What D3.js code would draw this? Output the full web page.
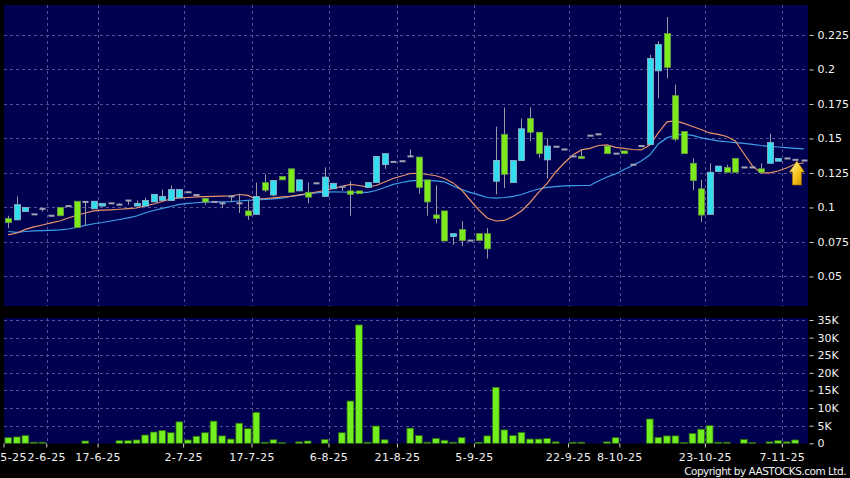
<!DOCTYPE html>
<html><head><meta charset="utf-8">
<script src="https://cdn.jsdelivr.net/npm/d3@7"></script>
<style>body{margin:0;background:#000;}svg{display:block}</style>
</head><body><svg id="c" width="850" height="478"></svg>
<script>
// ---------- data ----------
const opens  = [.092,.091,.097,.095,.099,.094,.100,.101,.1045,.104,.099,.101,.103,.102,.105,.101,.101,.104,.105,.105,
                .107,.111,.109,.1065,.104,.103,.108,.103,.0975,.095,.118,.109,.1225,.128,.112,.111,.1175,.108,.1135,.115,
                .112,.112,.1145,.118,.131,.133,.1335,.137,.1365,.120,.0946,.0975,.079,.084,.076,.081,.081,.119,.153,.118,
                .134,.1645,.1545,.1345,.144,.142,.137,.137,.152,.153,.1445,.139,.141,.131,.1445,.1455,.199,.226,.181,.155,
                .132,.1135,.095,.126,.129,.1355,.129,.129,.128,.132,.1335,.1355,.1345,.134];
const highs  = [.094,.108,.100,.095,.099,.094,.100,.101,.1045,.104,.1045,.103,.103,.103,.105,.105,.107,.1095,.113,.116,
                .113,.111,.109,.1065,.104,.103,.108,.110,.105,.118,.124,.1195,.1225,.128,.120,.118,.1175,.129,.1175,.115,
                .119,.112,.118,.137,.139,.133,.1335,.142,.1365,.120,.116,.0975,.081,.090,.076,.081,.085,.1585,.1725,.134,
                .1645,.1725,.1545,.150,.144,.142,.137,.1415,.152,.153,.1445,.139,.141,.131,.1445,.2105,.2205,.238,.189,.155,
                .1355,.120,.132,.130,.131,.1355,.129,.129,.132,.1535,.1355,.1355,.1345,.134];
const lows   = [.085,.091,.097,.095,.097,.094,.094,.101,.0855,.087,.099,.101,.103,.102,.102,.101,.101,.104,.105,.105,
                .107,.111,.109,.102,.104,.0995,.104,.096,.091,.095,.111,.108,.120,.111,.112,.103,.1175,.108,.1135,.112,
                .094,.110,.1145,.118,.128,.133,.1335,.137,.110,.094,.0885,.0757,.073,.072,.076,.076,.063,.1095,.114,.118,
                .134,.148,.136,.121,.144,.142,.137,.1355,.152,.153,.139,.139,.139,.131,.1445,.1455,.179,.1935,.148,.139,
                .1125,.0895,.095,.126,.1255,.1255,.129,.129,.1255,.132,.1335,.1355,.1345,.134];
const closes = [.089,.102,.100,.095,.099,.094,.094,.101,.0855,.104,.1045,.103,.103,.102,.105,.103,.105,.1095,.108,.113,
                .113,.111,.109,.104,.104,.103,.108,.103,.094,.108,.1125,.1195,.120,.111,.120,.1075,.1175,.122,.1175,.115,
                .1095,.110,.118,.137,.139,.133,.1335,.137,.1145,.104,.092,.0757,.081,.076,.076,.076,.070,.134,.124,.134,
                .157,.1545,.139,.1445,.144,.142,.137,.1355,.152,.153,.139,.139,.139,.131,.1445,.208,.218,.2015,.1495,.139,
                .1195,.0945,.1255,.130,.1255,.1255,.129,.129,.1255,.147,.1355,.1355,.1345,.134];
// volume, thousands of shares
const volumes = [1.6,1.8,2.2,0.3,0.3,0,0,0,0,0.65,0,0,0,0.75,0.75,0.95,2.35,3.2,3.6,3.0,
                 6.1,0.95,2.0,3.0,6.3,2.1,1.2,5.7,4.15,8.8,0.3,1.0,0.2,0,0.4,0.65,0,1.1,0,3.0,
                 12.0,33.6,0.3,4.9,1.0,0,0,4.3,2.2,0.3,1.4,0.85,0.3,1.6,0,0.3,2.1,15.9,3.8,2.2,
                 3.1,1.2,1.2,1.4,0.4,0,0.3,0.3,0,0,0.4,1.6,0,0,0,6.9,1.7,2.1,2.1,0.2,
                 2.8,4.0,5.0,0.3,0.3,0,1.1,0.2,0,0.4,0.75,0.4,0.95,0];
// moving averages (orange = short, blue = long)
const maShort = [.0801,.0815,.0841,.0859,.0873,.0888,.0902,.0924,.0943,.0960,.0975,.0980,.0983,.0987,.0991,.0996,.1011,.1025,.1043,.1062,
                 .1069,.1072,.1076,.1078,.1080,.1082,.1083,.1094,.1087,.1062,.1065,.1070,.1076,.1080,.1091,.1101,.1112,.1123,.1138,.1152,
                 .1167,.1159,.1149,.1159,.1185,.1210,.1228,.1246,.1248,.1239,.1230,.1210,.1178,.1127,.1054,.0982,.0924,.0902,.0906,.0935,
                 .0975,.1036,.1109,.1174,.1257,.1322,.1380,.1417,.1428,.1449,.1453,.1435,.1428,.1420,.1417,.1453,.1540,.1620,.1627,.1609,
                 .1587,.1565,.1540,.1529,.1514,.1482,.1391,.1301,.1250,.1250,.1264,.1286,.1315,.1322];
const maLong  = [.0826,.0820,.0826,.0830,.0832,.0834,.0837,.0844,.0855,.0870,.0882,.0891,.0902,.0913,.0924,.0938,.0960,.0978,.0993,.1007,
                 .1022,.1030,.1034,.1038,.1040,.1041,.1043,.1047,.1051,.1054,.1058,.1062,.1067,.1080,.1087,.1096,.1105,.1112,.1114,.1112,
                 .1110,.1110,.1110,.1123,.1145,.1167,.1181,.1192,.1196,.1194,.1192,.1185,.1156,.1130,.1109,.1091,.1072,.1067,.1072,.1080,
                 .1094,.1116,.1134,.1145,.1151,.1156,.1158,.1159,.1159,.1192,.1221,.1243,.1275,.1304,.1337,.1380,.1460,.1504,.1525,.1529,
                 .1522,.1504,.1493,.1482,.1476,.1470,.1464,.1457,.1449,.1443,.1438,.1433,.1428,.1424];
const dateLabels   = ["19-5-25","2-6-25","17-6-25","2-7-25","17-7-25","6-8-25","21-8-25","5-9-25","22-9-25","8-10-25","23-10-25","7-11-25"];
const dateLabelIdx = [0,5,11,21,29,38,46,55,66,72,82,91];
const priceTicks = [0.05,0.075,0.1,0.125,0.15,0.175,0.2,0.225];
const volTicks   = [0,5,10,15,20,25,30,35];

// ---------- layout ----------
const W=850,H=478;
const plotL=4, plotR=808, mainT=5, mainB=306, volT=318, volB=443.5;
const navy="#000050", gridC="#4f4f92", txtC="#f2f2f2";
const svg=d3.select("#c");
svg.append("rect").attr("width",W).attr("height",H).attr("fill","#000");

const n=opens.length;
const x=d3.scaleBand().domain(d3.range(n)).range([plotL,plotR]);
const bw=x.bandwidth();
const cx=i=>x(i)+bw/2;
const y=d3.scaleLinear().domain([0.0286,0.2467]).range([mainB,mainT]);
const yv=d3.scaleLinear().domain([0,35]).range([443.3,320]);

svg.append("rect").attr("x",plotL).attr("y",mainT).attr("width",plotR-plotL).attr("height",mainB-mainT).attr("fill",navy);
svg.append("rect").attr("x",plotL).attr("y",volT).attr("width",plotR-plotL).attr("height",volB-volT).attr("fill",navy);

// grids
const g=svg.append("g").attr("stroke",gridC).attr("stroke-dasharray","3,3").attr("stroke-width",1);
priceTicks.forEach(p=>g.append("line").attr("x1",plotL).attr("x2",plotR).attr("y1",Math.round(y(p))+.5).attr("y2",Math.round(y(p))+.5));
volTicks.filter(v=>v>0).forEach(v=>g.append("line").attr("x1",plotL).attr("x2",plotR).attr("y1",Math.round(yv(v))+.5).attr("y2",Math.round(yv(v))+.5));
dateLabelIdx.filter(i=>i>0).forEach(i=>{
  const xx=Math.round(x(i))+.5;
  g.append("line").attr("x1",xx).attr("x2",xx).attr("y1",mainT).attr("y2",mainB);
  g.append("line").attr("x1",xx).attr("x2",xx).attr("y1",volT).attr("y2",volB);
});

// moving averages
const lineS=d3.line().x((d,i)=>cx(i)).y(d=>y(d));
svg.append("path").attr("d",lineS(maLong)).attr("fill","none").attr("stroke","#3d9fe6").attr("stroke-width",1.2);
svg.append("path").attr("d",lineS(maShort)).attr("fill","none").attr("stroke","#e8946a").attr("stroke-width",1.2);

// candles
const data=d3.range(n).map(i=>({i,o:opens[i],h:highs[i],l:lows[i],c:closes[i],v:volumes[i]}));
const cg=svg.append("g");
cg.selectAll("line.w").data(data.filter(d=>d.h>Math.max(d.o,d.c)||d.l<Math.min(d.o,d.c))).join("line")
  .attr("x1",d=>Math.round(cx(d.i))+.5).attr("x2",d=>Math.round(cx(d.i))+.5)
  .attr("y1",d=>y(d.h)).attr("y2",d=>y(d.l)).attr("stroke","#9a9aa6").attr("stroke-width",1);
const bodyW=6;
cg.selectAll("rect.b").data(data).join("rect")
  .attr("x",d=>Math.round(cx(d.i))-bodyW/2+.5)
  .attr("width",bodyW)
  .attr("y",d=>d.o===d.c? y(d.o)-1 : y(Math.max(d.o,d.c)))
  .attr("height",d=>d.o===d.c? 2 : Math.max(2,Math.abs(y(d.o)-y(d.c))))
  .attr("fill",d=>d.c>d.o?"#33dcef":(d.c<d.o?"#7dea1c":"#a2a2b2"))
  .attr("stroke",d=>d.c>d.o?"#9ab8c8":(d.c<d.o?"#6b9a4a":"none"))
  .attr("stroke-width",0.8);

// volume bars
svg.append("g").selectAll("rect").data(data.filter(d=>d.v>0)).join("rect")
  .attr("x",d=>x(d.i)+0.9).attr("width",bw-1.8)
  .attr("y",d=>yv(d.v)).attr("height",d=>yv(0)-yv(d.v))
  .attr("fill","#72f01e").attr("stroke","#2f6a14").attr("stroke-width",0.8);

// axes
const styleAxis=(sel)=>{sel.select(".domain").remove();
  sel.selectAll(".tick line").attr("stroke","#cfcfcf");
  sel.selectAll(".tick text").attr("fill",txtC).style("font-family","'DejaVu Sans',sans-serif").style("font-size","11px");};
svg.append("g").attr("transform",`translate(${plotR+1.5},0)`)
  .call(d3.axisRight(y).tickValues(priceTicks).tickSize(4).tickPadding(4).tickFormat(d=>String(d))).call(styleAxis);
svg.append("g").attr("transform",`translate(${plotR+1.5},0)`)
  .call(d3.axisRight(yv).tickValues(volTicks).tickSize(4).tickPadding(4).tickFormat(d=>d===0?"0":d+"K")).call(styleAxis);
const xa=svg.append("g").attr("transform",`translate(${-bw/2},${volB})`)
  .call(d3.axisBottom(x).tickValues(dateLabelIdx).tickSize(4).tickPadding(6).tickFormat(i=>dateLabels[dateLabelIdx.indexOf(i)]))
  .call(styleAxis);
xa.selectAll(".tick text").style("letter-spacing","0.4px");

// copyright
svg.append("text").attr("x",846).attr("y",474.5).attr("text-anchor","end")
  .attr("fill",txtC).style("font-family","'DejaVu Sans',sans-serif").style("font-size","10.5px")
  .style("letter-spacing","-0.5px")
  .text("Copyright by AASTOCKS.com Ltd.");

// last-price arrow
const defs=svg.append("defs");
const gr=defs.append("linearGradient").attr("id","ag").attr("x1",0).attr("y1",0).attr("x2",1).attr("y2",1);
gr.append("stop").attr("offset","0%").attr("stop-color","#fff6a8");
gr.append("stop").attr("offset","55%").attr("stop-color","#f6c419");
gr.append("stop").attr("offset","100%").attr("stop-color","#c98a00");
const ax=x(n-1)-2.5, ay=y(closes[n-1])+0.5;
svg.append("path")
  .attr("d",`M${ax},${ay} L${ax+7.5},${ay+11} L${ax+4.5},${ay+11} L${ax+4.5},${ay+24} L${ax-4.5},${ay+24} L${ax-4.5},${ay+11} L${ax-7.5},${ay+11} Z`)
  .attr("fill","url(#ag)").attr("stroke","#a87000").attr("stroke-width",0.6);
</script></body></html>
